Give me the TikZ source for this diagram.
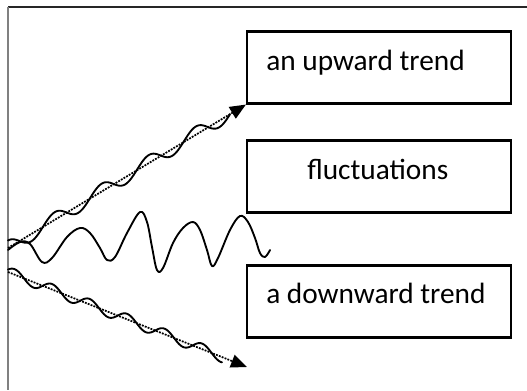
\documentclass[tikz,border=0pt]{standalone}
\usepackage{fontspec}
\setmainfont{Carlito}
\usetikzlibrary{arrows.meta}
\tikzset{
  box/.style={draw=black, line width=1.6pt, minimum width={264*0.75pt}, minimum height={72*0.75pt}, inner sep=0pt},
  lbl/.style={anchor=base west, inner sep=0pt, font=\fontsize{22}{25}\selectfont},
  trendarrow/.style={line width=1.3pt, dash pattern=on 1.4pt off 0.9pt, -{Triangle[length=12pt,width=10pt]}},
  wave/.style={line width=1.4pt, line join=round, line cap=round},
}
\begin{document}
\begin{tikzpicture}[x=0.75pt, y=-0.75pt]
\useasboundingbox (0,0) rectangle (527,390);
% frame
\draw[black!85, line width=0.8pt] (8,7) -- (527,7);
\draw[black!50, line width=1.5pt] (8,7) -- (8,390);
% boxes
\node[box] (b1) at (379,67.5) {};
\node[box] (b2) at (379,176.5) {};
\node[box] (b3) at (379,301.5) {};
\node[lbl] (t1) at (266,70) {an upward trend};
\node[lbl] (t2) at (307,179) {fluctuations};
\node[lbl] (t3) at (266,303) {a downward trend};
% arrows
\coordinate (s1) at (8,248);
\coordinate (s2) at (8,272);
\coordinate (e2) at (247,367);
\draw[trendarrow] (s1) -- (b1.south west);
\draw[trendarrow] (s2) -- (e2);
% wavy lines
\draw[wave] plot[domain=8:230, samples=160, smooth] (\x, {248 - 0.607*(\x-8) + 7.5*sin((\x-19.5)/47*360)});
\draw[wave] plot[domain=8:222, samples=160, smooth] (\x, {272 + 0.397*(\x-8) + 5.5*sin((\x-24)/37.5*360)});
\draw[wave] plot[smooth, tension=0.6] coordinates {
 (8,250) (20,242) (30,244) (42,262) (52,258) (67,237) (80,228) (90,233)
 (100,248) (107,260) (115,257) (127,233) (140,212) (147,222) (152,247)
 (157,270) (163,268) (173,243) (183,228) (193,222) (200,230) (207,250)
 (212,266) (218,258) (230,230) (240,216) (248,222) (255,238) (260,253)
 (265,257) (270,250)};
\end{tikzpicture}
\end{document}
